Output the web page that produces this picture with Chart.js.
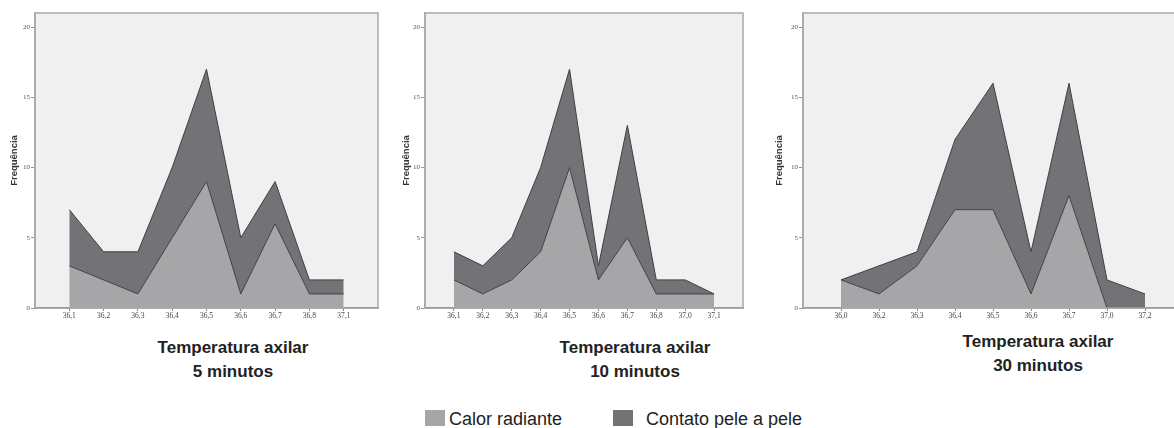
<!DOCTYPE html>
<html>
<head>
<meta charset="utf-8">
<script src="https://cdn.jsdelivr.net/npm/chart.js@4.4.1/dist/chart.umd.min.js"></script>
<style>
  html, body { margin:0; padding:0; background:#fff; overflow:hidden; width:1174px; height:428px; }
  .pane { position:absolute; top:0; }
  .ttl { position:absolute; font-family:"Liberation Sans", Arial, sans-serif; font-weight:bold; font-size:17px; line-height:23.5px; color:#222; text-align:center; width:220px; white-space:nowrap; }
  .leg { position:absolute; font-family:"Liberation Sans", Arial, sans-serif; font-size:18px; line-height:18px; color:#222; white-space:nowrap; }
  .sw { position:absolute; width:20px; height:16px; }
</style>
</head>
<body>
<div class="pane" style="left:0px"><canvas id="c5" width="385" height="330"></canvas></div>
<div class="pane" style="left:390px"><canvas id="c10" width="360" height="330"></canvas></div>
<div class="pane" style="left:768px"><canvas id="c30" width="422" height="330"></canvas></div>

<div class="ttl" style="left:123px; top:336px">Temperatura axilar<br>5 minutos</div>
<div class="ttl" style="left:525px; top:336px">Temperatura axilar<br>10 minutos</div>
<div class="ttl" style="left:928px; top:330px">Temperatura axilar<br>30 minutos</div>

<div class="sw" style="left:425px; top:410px; background:#a6a6a9"></div>
<div class="leg" style="left:449px; top:410px">Calor radiante</div>
<div class="sw" style="left:613px; top:410px; background:#737377"></div>
<div class="leg" style="left:646px; top:410px">Contato pele a pele</div>

<script>
// ---- data ----
const labels5   = ['36,1','36,2','36,3','36,4','36,5','36,6','36,7','36,8','37,1'];
const calor5    = [3, 2, 1, 5, 9, 1, 6, 1, 1];
const contato5  = [4, 2, 3, 5, 8, 4, 3, 1, 1];

const labels10  = ['36,1','36,2','36,3','36,4','36,5','36,6','36,7','36,8','37,0','37,1'];
const calor10   = [2, 1, 2, 4, 10, 2, 5, 1, 1, 1];
const contato10 = [2, 2, 3, 6, 7, 1, 8, 1, 1, 0];

const labels30  = ['36,0','36,2','36,3','36,4','36,5','36,6','36,7','37,0','37,2'];
const calor30   = [2, 1, 3, 7, 7, 1, 8, 0, 0];
const contato30 = [0, 2, 1, 5, 9, 3, 8, 2, 1];

const yTicks = [0, 5, 10, 15, 20];
const seriesNames = ['Calor radiante', 'Contato pele a pele'];
const yTitle = 'Frequência';

// ---- styling ----
const LIGHT = '#a6a6a9';
const DARK = '#737377';
const OUTLINE = '#404040';

const framePlugin = {
  id: 'frame',
  beforeDraw(chart) {
    const a = chart.chartArea, ctx = chart.ctx;
    ctx.save();
    ctx.fillStyle = '#f0f0f1';
    ctx.fillRect(a.left, a.top, a.right - a.left, a.bottom - a.top);
    ctx.restore();
  },
  afterDraw(chart) {
    const a = chart.chartArea, ctx = chart.ctx;
    ctx.save();
    ctx.strokeStyle = '#a8a8a8';
    ctx.lineWidth = 1.5;
    ctx.strokeRect(a.left, a.top, a.right - a.left, a.bottom - a.top);
    ctx.restore();
  }
};

function makeChart(id, labels, calor, contato, rightPad, titlePad) {
  const n = labels.length;
  const toPts = arr => arr.map((v, i) => ({ x: i, y: v }));
  return new Chart(document.getElementById(id), {
    type: 'line',
    data: {
      datasets: [
        { label: seriesNames[0], data: toPts(calor), fill: 'origin', backgroundColor: LIGHT,
          borderColor: OUTLINE, borderWidth: 1, pointRadius: 0, tension: 0 },
        { label: seriesNames[1], data: toPts(contato), fill: '-1', backgroundColor: DARK,
          borderColor: OUTLINE, borderWidth: 1, pointRadius: 0, tension: 0 }
      ]
    },
    options: {
      responsive: false,
      devicePixelRatio: 1,
      animation: false,
      layout: { padding: { top: 13, right: rightPad, left: 0, bottom: 0 } },
      plugins: { legend: { display: false }, tooltip: { enabled: false } },
      scales: {
        x: {
          type: 'linear', min: -1, max: n,
          afterBuildTicks: s => { s.ticks = labels.map((l, i) => ({ value: i })); },
          afterFit: s => { s.height = 22; },
          ticks: { autoSkip: false, maxRotation: 0, padding: 1,
                   callback: v => labels[v] ?? '',
                   font: { family: 'Liberation Serif', size: 7.5 }, color: '#444' },
          grid: { drawOnChartArea: false, drawTicks: true, tickLength: 3, color: '#888' },
          border: { display: true, color: '#7a7a7a', width: 1.5 }
        },
        y: {
          stacked: true, min: 0, max: 21,
          afterBuildTicks: s => { s.ticks = yTicks.map(v => ({ value: v })); },
          afterFit: s => { s.width = 35; },
          ticks: { padding: 1, font: { family: 'Liberation Serif', size: 7 }, color: '#555' },
          grid: { drawOnChartArea: false, drawTicks: true, tickLength: 4, color: '#999' },
          border: { display: true, color: '#a8a8a8', width: 1.5 },
          title: { display: true, text: yTitle, color: '#333',
                   font: { family: 'Liberation Sans', size: 9.5, weight: 'bold' },
                   padding: { top: titlePad, bottom: 0 } }
        }
      }
    },
    plugins: [framePlugin]
  });
}

makeChart('c5', labels5, calor5, contato5, 7, 9);
makeChart('c10', labels10, calor10, contato10, 7, 11);
makeChart('c30', labels30, calor30, contato30, 7, 6);
</script>
</body>
</html>
